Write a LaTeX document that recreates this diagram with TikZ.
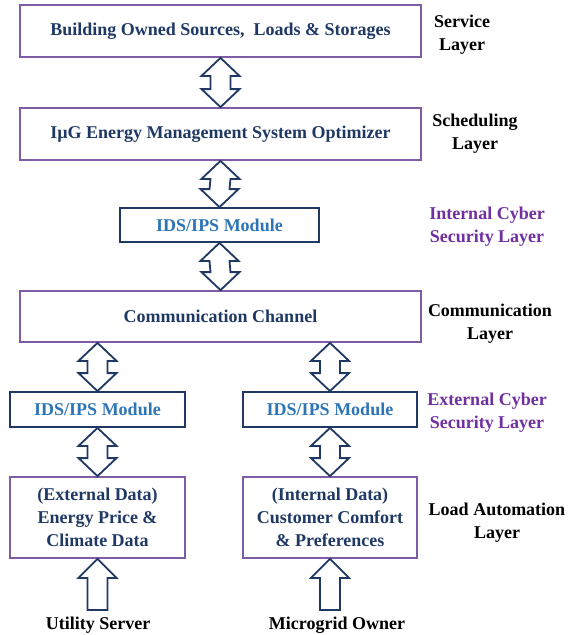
\documentclass[tikz,border=0pt]{standalone}
\usepackage{fontspec}
\setmainfont{Liberation Serif}
\usetikzlibrary{calc}
\definecolor{navy}{HTML}{1F3864}
\definecolor{boxpurple}{HTML}{7E5CA6}
\definecolor{idsblue}{HTML}{2E75B6}
\definecolor{labpurple}{HTML}{7030A0}
\newcommand\dblarr[2]{\draw[bigarrow] (#1.south) -- ++(19,18) -- ++(-9,0) -- ($(#2.north)+(10,-18)$) -- ++(9,0) -- (#2.north) -- ++(-19,-18) -- ++(9,0) -- ($(#1.south)+(-10,18)$) -- ++(-9,0) -- cycle;}
\newcommand\uparr[2]{\draw[bigarrow] (#2.south) -- ++(19,19) -- ++(-9,0) -- ($(#1)+(10,0)$) -- ($(#1)+(-10,0)$) -- ($(#2.south)+(-10,19)$) -- ++(-9,0) -- cycle;}
\begin{document}
\begin{tikzpicture}[x=1pt,y=-1pt,
  every node/.style={font=\fontsize{18}{23}\selectfont\bfseries, inner sep=0pt},
  mainbox/.style={draw=boxpurple, line width=1.8pt, text=navy, align=center},
  idsbox/.style={draw=navy, line width=1.8pt, text=idsblue, align=center},
  bigarrow/.style={draw=navy, fill=white, line width=1.8pt, line join=miter},
  layerlabel/.style={align=center, text=black},
  seclabel/.style={align=center, text=labpurple}]
\useasboundingbox (0,0) rectangle (569,635);
\fill[white] (0,0) rectangle (569,635);
% boxes
\node[mainbox, minimum width=401pt, minimum height=52pt] (b1) at (220.5,31) {Building Owned Sources,~ Loads \& Storages};
\node[mainbox, minimum width=401pt, minimum height=52pt] (b2) at (220.5,134) {I\textmu G Energy Management System Optimizer};
\node[idsbox, minimum width=199pt, minimum height=34pt] (ids0) at (219.5,225) {IDS/IPS Module};
\node[mainbox, minimum width=401pt, minimum height=51pt] (comm) at (220.5,316.5) {Communication Channel};
\node[idsbox, minimum width=175pt, minimum height=35pt] (idsL) at (97.5,409.5) {IDS/IPS Module};
\node[idsbox, minimum width=174pt, minimum height=35pt] (idsR) at (330,409.5) {IDS/IPS Module};
\node[mainbox, minimum width=175pt, minimum height=81pt] (dL) at (97.5,517.5) {(External Data)\\Energy Price \&\\Climate Data};
\node[mainbox, minimum width=174pt, minimum height=81pt] (dR) at (330,517.5) {(Internal Data)\\Customer Comfort\\\& Preferences};
% bottom sources
\node (us) at (98,625) {Utility Server};
\node (mo) at (337,625) {Microgrid Owner};
\coordinate (uL) at (97.5,610);
\coordinate (uR) at (330,610);
% arrows
\dblarr{b1}{b2}
\dblarr{b2}{ids0}
\dblarr{ids0}{comm}
\draw[bigarrow] (comm.south -| idsL.north) -- ++(19,18) -- ++(-9,0) -- ($(idsL.north)+(10,-18)$) -- ++(9,0) -- (idsL.north) -- ++(-19,-18) -- ++(9,0) -- ($(comm.south -| idsL.north)+(-10,18)$) -- ++(-9,0) -- cycle;
\draw[bigarrow] (comm.south -| idsR.north) -- ++(19,18) -- ++(-9,0) -- ($(idsR.north)+(10,-18)$) -- ++(9,0) -- (idsR.north) -- ++(-19,-18) -- ++(9,0) -- ($(comm.south -| idsR.north)+(-10,18)$) -- ++(-9,0) -- cycle;
\dblarr{idsL}{dL}
\dblarr{idsR}{dR}
\uparr{uL}{dL}
\uparr{uR}{dR}
% layer labels
\node[layerlabel] (l1) at (462,34.5) {Service\\Layer};
\node[layerlabel] (l2) at (475,134) {Scheduling\\Layer};
\node[seclabel] (l3) at (487,227) {Internal Cyber\\Security Layer};
\node[layerlabel] (l4) at (490,324) {Communication\\Layer};
\node[seclabel] (l5) at (487,413) {External Cyber\\Security Layer};
\node[layerlabel] (l6) at (497,523) {Load Automation\\Layer};
\end{tikzpicture}
\end{document}
